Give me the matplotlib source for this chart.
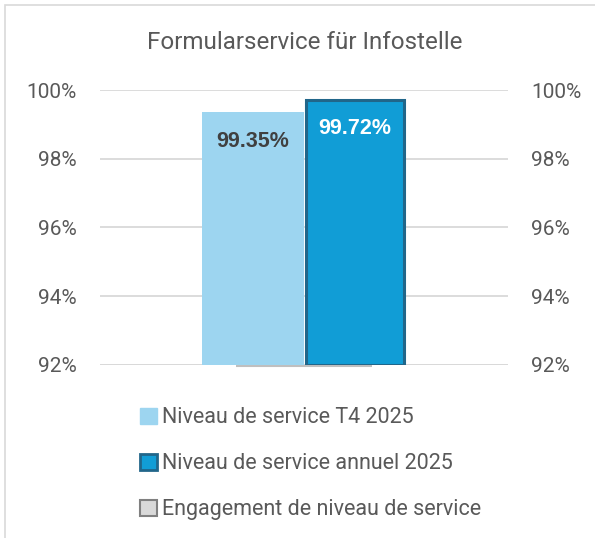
import matplotlib.pyplot as plt
from matplotlib.patches import Rectangle, Patch
from matplotlib.ticker import PercentFormatter

plt.rcParams['font.family'] = ['Roboto', 'DejaVu Sans']

# data
title = 'Formularservice für Infostelle'
series_names = ['Niveau de service T4 2025', 'Niveau de service annuel 2025',
                'Engagement de niveau de service']
q4_value = 0.9935
annual_value = 0.9972
target_value = 0.90  # below axis floor, only its edge shows
y_ticks = [0.92, 0.94, 0.96, 0.98, 1.00]

light_blue = '#9DD5F0'
dark_blue = '#119DD6'
dark_edge = '#21668A'
grey_fill = '#D9D9D9'
grey_edge = '#808080'
text_col = '#595959'

fig = plt.figure(figsize=(5.95, 5.38), dpi=100)
ax = fig.add_axes([0.168, 0.3216, 0.686, 0.5111])
ax2 = ax.twinx()

ymin, ymax = 0.92, 1.00
ax.set_ylim(ymin, ymax)
ax2.set_ylim(ymin, ymax)
ax.set_xlim(-0.5, 0.5)

bw = 0.25
ax.bar(-bw / 2, q4_value - ymin, bw, bottom=ymin, color=light_blue, zorder=2)
ax.bar(bw / 2, annual_value - ymin, bw - 0.008, bottom=ymin, color=dark_blue,
       edgecolor=dark_edge, linewidth=2.2, zorder=3)
# engagement bar on secondary axis, clipped at the floor
ax2.bar(0, max(target_value - ymin, 0), 0.333, bottom=ymin - 0.0003, color=grey_fill,
        edgecolor='#BFBFBF', linewidth=1.5, zorder=1, clip_on=False)

ax.text(-bw / 2, q4_value - 0.0085, f'{q4_value:.2%}', ha='center', va='center',
        fontsize=15.5, fontweight='bold', color='#404040', family='Liberation Sans', zorder=5)
ax.text(bw / 2, annual_value - 0.0085, f'{annual_value:.2%}', ha='center', va='center',
        fontsize=15.5, fontweight='bold', color='white', family='Liberation Sans', zorder=5)

for a in (ax, ax2):
    a.set_yticks(y_ticks)
    a.yaxis.set_major_formatter(PercentFormatter(1.0, decimals=0))
    a.tick_params(length=0, labelsize=15, labelcolor=text_col, pad=16.5)
    for s in a.spines.values():
        s.set_visible(False)
ax.set_xticks([])
ax.yaxis.grid(True, color='#D9D9D9', linewidth=1.3)
ax.set_axisbelow(True)
ax.axhline(ymin, color='#D9D9D9', linewidth=1.3, zorder=0)
ax.set_zorder(ax2.get_zorder() + 1)
ax.patch.set_visible(False)

fig.text(0.513, 0.921, title, ha='center', va='center', fontsize=17.4, color=text_col)

handles = [
    Patch(facecolor=light_blue, edgecolor=light_blue, label=series_names[0]),
    Patch(facecolor=dark_blue, edgecolor=dark_edge, linewidth=2, label=series_names[1]),
    Patch(facecolor=grey_fill, edgecolor=grey_edge, linewidth=1.5, label=series_names[2]),
]
fig.legend(handles=handles, loc='upper left', bbox_to_anchor=(0.218, 0.263),
           frameon=False, fontsize=15.5, labelcolor=text_col, handlelength=0.75,
           handleheight=0.75, handletextpad=0.25, labelspacing=1.16, borderpad=0)

# chart frame (only top/left edges visible in the crop)
fig.patches.append(Rectangle((5 / 595, -0.1), 1.2, 1 - 5 / 538 + 0.1, transform=fig.transFigure,
                             fill=False, edgecolor='#D9D9D9', linewidth=1.2))

fig.savefig('out.png', dpi=100)
